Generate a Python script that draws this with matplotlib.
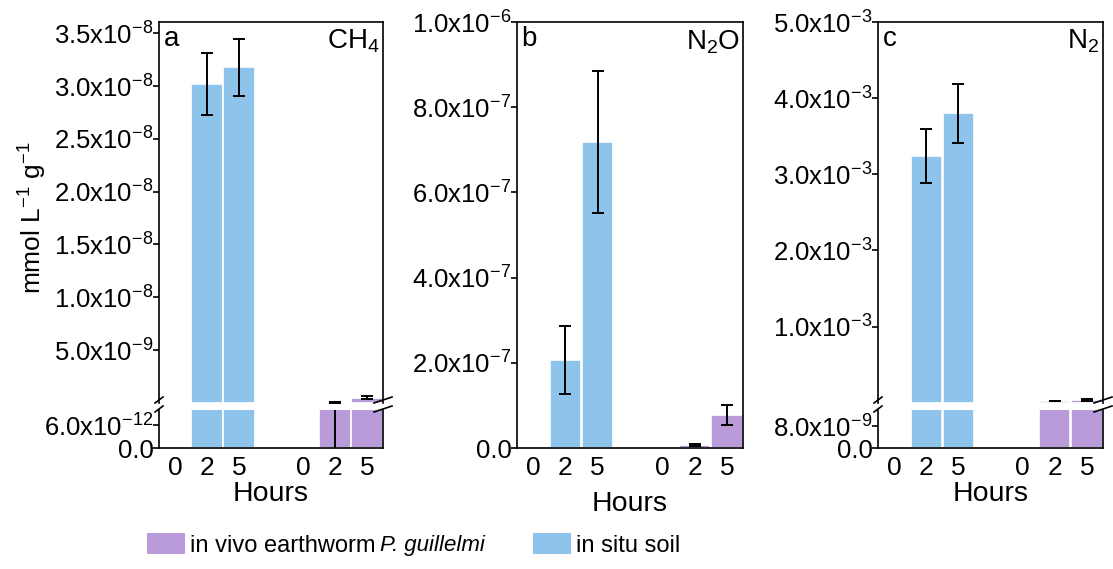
import matplotlib
matplotlib.use('Agg')
import matplotlib.pyplot as plt
from matplotlib.patches import Patch
from matplotlib.lines import Line2D
from matplotlib.text import Annotation
import numpy as np

plt.rcParams['font.family'] = ['Liberation Sans', 'DejaVu Sans']
plt.rcParams['mathtext.fontset'] = 'custom'
plt.rcParams['mathtext.rm'] = 'Liberation Sans'
plt.rcParams['mathtext.it'] = 'Liberation Sans:italic'
plt.rcParams['axes.linewidth'] = 1.2

# data (hours 0, 2, 5)
hours = ['0', '2', '5']
ch4_soil = [0, 3.02e-8, 3.18e-8]
ch4_soil_err = [0, 0.29e-8, 0.27e-8]
ch4_worm = [0, 5e-11, 5.0e-10]
ch4_worm_err = [0, 5.5e-11, 1.7e-10]
n2o_soil = [0, 2.07e-7, 7.18e-7]
n2o_soil_err = [0, 0.80e-7, 1.67e-7]
n2o_worm = [0, 7e-9, 7.8e-8]
n2o_worm_err = [0, 2.5e-9, 2.4e-8]
n2_soil = [0, 3.24e-3, 3.80e-3]
n2_soil_err = [0, 0.35e-3, 0.39e-3]
n2_worm = [0, 2.2e-5, 3.5e-5]
n2_worm_err = [0, 0.3e-5, 1.2e-5]

blue = '#8EC4EC'
purple = '#B99BDA'
W, H = 1113, 569
YFS = 18.5
XFS = 19

soil_x = np.array([1, 2, 3])
worm_x = np.array([5, 6, 7])


def fmt(v):
    if v == 0:
        return '0.0'
    e = int(np.floor(np.log10(abs(v)) + 1e-9))
    m = v / 10**e
    return r'$\mathregular{%.1fx10^{%d}}$' % (m, e)


def box(l, t, r, b):
    return [l / W, 1 - b / H, (r - l) / W, (b - t) / H]


def draw_bars(ax, soil, soil_err, worm, worm_err):
    for xs, vals, errs, col in [(soil_x, soil, soil_err, blue),
                                (worm_x, worm, worm_err, purple)]:
        for x, v, e in zip(xs, vals, errs):
            if v > 0:
                ax.bar(x, v, width=0.97, color=col, edgecolor='white', linewidth=1.2, zorder=2)
                ax.errorbar(x, v, yerr=e, color='black', lw=1.4, capsize=4.5, capthick=1.4, zorder=3)
    ax.set_xlim(0.5, 7.5)
    ax.tick_params(axis='y', direction='out', length=4, width=1.2, labelsize=YFS, pad=0)
    ax.tick_params(axis='x', length=0, labelsize=XFS, pad=6)


def set_yticks(ax, ticks):
    ax.set_yticks(ticks)
    ax.set_yticklabels([fmt(t) for t in ticks])


def break_marks(l, r, y_up, y_lo):
    for xc, dx in [(l, 4), (r, 9)]:
        for yc in (y_up, y_lo):
            fig.add_artist(Line2D([(xc - dx) / W, (xc + dx) / W],
                                  [1 - (yc + 3) / H, 1 - (yc - 3) / H],
                                  color='black', lw=1.2))


fig = plt.figure(figsize=(W / 100, H / 100), dpi=100)

panels = [
    dict(l=159, r=383, name='a', gas=r'CH$_4$', soil=ch4_soil, soil_err=ch4_soil_err,
         worm=ch4_worm, worm_err=ch4_worm_err, up=(1e-11, 3.607e-8),
         up_ticks=[5e-9, 1e-8, 1.5e-8, 2e-8, 2.5e-8, 3e-8, 3.5e-8],
         lo=(0, 1e-11), lo_ticks=[0, 6e-12], hours_y=494),
    dict(l=517, r=743, name='b', gas=r'N$_2$O', soil=n2o_soil, soil_err=n2o_soil_err,
         worm=n2o_worm, worm_err=n2o_worm_err, up=None,
         up_ticks=[0, 2e-7, 4e-7, 6e-7, 8e-7, 1e-6], hours_y=504),
    dict(l=878, r=1103, name='c', gas=r'N$_2$', soil=n2_soil, soil_err=n2_soil_err,
         worm=n2_worm, worm_err=n2_worm_err, up=(1.4e-8, 5e-3),
         up_ticks=[1e-3, 2e-3, 3e-3, 4e-3, 5e-3],
         lo=(0, 1.4e-8), lo_ticks=[0, 8e-9], hours_y=494),
]

for p in panels:
    data = (p['soil'], p['soil_err'], p['worm'], p['worm_err'])
    if p['up'] is None:
        ax = fig.add_axes(box(p['l'], 22, p['r'], 448))
        draw_bars(ax, *data)
        ax.set_ylim(0, 1e-6)
        set_yticks(ax, p['up_ticks'])
        ax.set_xticks(list(soil_x) + list(worm_x))
        ax.set_xticklabels(hours + hours)
        top_ax = ax
    else:
        top_ax = fig.add_axes(box(p['l'], 22, p['r'], 402.7))
        lo_ax = fig.add_axes(box(p['l'], 410, p['r'], 448))
        for ax in (top_ax, lo_ax):
            draw_bars(ax, *data)
        top_ax.set_ylim(*p['up'])
        lo_ax.set_ylim(*p['lo'])
        set_yticks(top_ax, p['up_ticks'])
        set_yticks(lo_ax, p['lo_ticks'])
        top_ax.spines['bottom'].set_visible(False)
        lo_ax.spines['top'].set_visible(False)
        top_ax.set_xticks([])
        lo_ax.set_xticks(list(soil_x) + list(worm_x))
        lo_ax.set_xticklabels(hours + hours)
        break_marks(p['l'], p['r'], 400, 409)
    top_ax.text(0.02, 0.99, p['name'], transform=top_ax.transAxes, ha='left', va='top', fontsize=20)
    top_ax.text(0.985, 0.985, p['gas'], transform=top_ax.transAxes, ha='right', va='top', fontsize=20)
    fig.text((p['l'] + p['r']) / 2 / W, 1 - p['hours_y'] / H, 'Hours', ha='center', va='center', fontsize=20.5)

fig.text(33 / W, 1 - 218 / H, r'mmol L$^{-1}$ g$^{-1}$', rotation=90, ha='center', va='center', fontsize=19)

handles = [Patch(facecolor=purple, edgecolor='none'), Patch(facecolor=blue, edgecolor='none')]
labels = ['in vivo earthworm', 'in situ soil']
leg = fig.legend(handles, labels, loc='lower left', bbox_to_anchor=(147 / W, 1 - 557 / H), ncol=2,
                 frameon=False, fontsize=17, handlelength=1.6, handleheight=1.0, handletextpad=0.2,
                 columnspacing=6.7, borderpad=0, borderaxespad=0)
# italic species name right after the first legend entry (drawn after the legend)
t0 = leg.get_texts()[0]
fig.add_artist(Annotation('P. guillelmi', xy=(1, 0), xycoords=t0, xytext=(5, 0.5),
                          textcoords='offset pixels', ha='left', va='bottom',
                          fontsize=16, fontstyle='italic', zorder=10))

fig.savefig('out.png', dpi=100)
